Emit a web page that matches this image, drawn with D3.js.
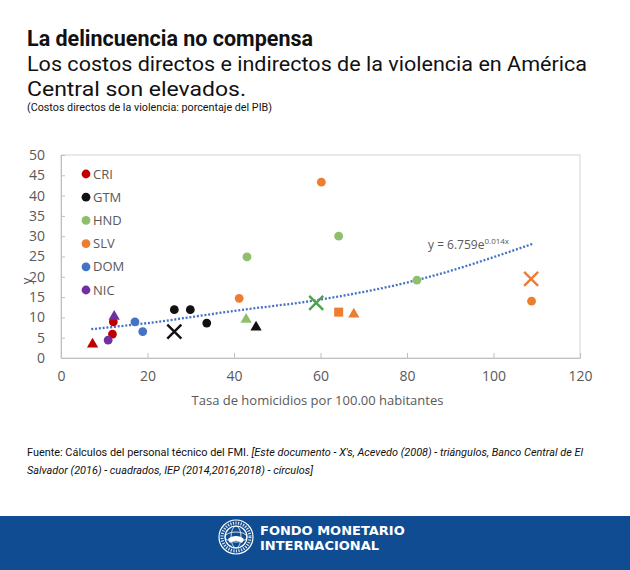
<!DOCTYPE html>
<html>
<head>
<meta charset="utf-8">
<script src="https://cdn.jsdelivr.net/npm/d3@7"></script>
<style>
  body { margin: 0; background: #fff; }
  svg { display: block; }
</style>
</head>
<body>
<div id="chart"></div>
<script>
// countries and colours, in legend order
var countries = ["CRI", "GTM", "HND", "SLV", "DOM", "NIC"];
var countryColors = ["#c00000", "#111111", "#8fbf6c", "#ed7d31", "#4472c4", "#7030a0"];

// IEP (2014, 2016, 2018) - circles
var circlePts = [
    ["CRI", 11.9, 5.9], ["CRI", 12.1, 8.9],
    ["GTM", 26.2, 11.9], ["GTM", 29.9, 11.9], ["GTM", 33.7, 8.6],
    ["HND", 43.0, 24.9], ["HND", 64.2, 30.0], ["HND", 82.3, 19.2],
    ["SLV", 60.2, 43.3], ["SLV", 41.2, 14.7], ["SLV", 108.8, 14.0],
    ["DOM", 17.1, 8.9], ["DOM", 18.9, 6.5],
    ["NIC", 10.9, 4.4]
];
// Acevedo (2008) - triangles
var trianglePts = [
    ["CRI", 7.3, 3.4], ["GTM", 45.1, 7.6], ["HND", 42.8, 9.5],
    ["SLV", 67.7, 10.8], ["NIC", 12.3, 10.2]
];
// Banco Central de El Salvador (2016) - squares
var squarePts = [["SLV", 64.2, 11.3]];
// este documento - X's
var crossPts = [["GTM", 26.2, 6.5], ["HND", 59.0, 13.6], ["SLV", 108.7, 19.5]];
var crossColors = {"GTM": "#111111", "HND": "#4ea24a", "SLV": "#ed7d31"};

// exponential trend line
var trendX = [7, 20, 40, 60, 82, 109];
var trendY = [7.1, 8.6, 11.6, 14.4, 19.1, 28.1];

var xTicks = [0, 20, 40, 60, 80, 100, 120];
var yTicks = [0, 5, 10, 15, 20, 25, 30, 35, 40, 45, 50];

var width = 630, height = 570;
var plot = {left: 61, right: 580, top: 155, bottom: 358};
var grayText = "#595959";
var chartFont = "'Open Sans', sans-serif";

var svg = d3.select("#chart").append("svg")
    .attr("width", width)
    .attr("height", height);

// titles
svg.append("text")
    .attr("x", 27).attr("y", 46)
    .style("font-family", "Roboto").style("font-weight", "bold").style("font-size", "22px")
    .attr("fill", "#111")
    .attr("textLength", 286).attr("lengthAdjust", "spacingAndGlyphs")
    .text("La delincuencia no compensa");
svg.append("text")
    .attr("x", 27).attr("y", 71)
    .style("font-family", "Roboto").style("font-size", "20.5px")
    .attr("fill", "#111")
    .attr("textLength", 560).attr("lengthAdjust", "spacingAndGlyphs")
    .text("Los costos directos e indirectos de la violencia en América");
svg.append("text")
    .attr("x", 27).attr("y", 95.5)
    .style("font-family", "Roboto").style("font-size", "20.5px")
    .attr("fill", "#111")
    .attr("textLength", 219).attr("lengthAdjust", "spacingAndGlyphs")
    .text("Central son elevados.");
svg.append("text")
    .attr("x", 27).attr("y", 111)
    .style("font-family", "Roboto").style("font-size", "11px")
    .attr("fill", "#111")
    .attr("textLength", 245).attr("lengthAdjust", "spacingAndGlyphs")
    .text("(Costos directos de la violencia: porcentaje del PIB)");

var x = d3.scaleLinear().domain([0, 120]).range([plot.left, plot.right]);
var y = d3.scaleLinear().domain([0, 50]).range([plot.bottom, plot.top]);

// frame
svg.append("rect")
    .attr("x", plot.left).attr("y", plot.top)
    .attr("width", plot.right - plot.left).attr("height", plot.bottom - plot.top)
    .attr("fill", "none").attr("stroke", "#d4d4d4").attr("stroke-width", 1);

var xAxis = svg.append("g")
    .attr("transform", "translate(0," + plot.bottom + ")")
    .call(d3.axisBottom(x).tickValues(xTicks).tickSizeInner(-5).tickSizeOuter(0).tickPadding(13));
var yAxis = svg.append("g")
    .attr("transform", "translate(" + plot.left + ",0)")
    .call(d3.axisLeft(y).tickValues(yTicks).tickSizeInner(-4).tickSizeOuter(0).tickPadding(16));

[xAxis, yAxis].forEach(function (ax) {
    ax.select(".domain").attr("stroke", "#bfbfbf");
    ax.selectAll(".tick line").attr("stroke", "#bfbfbf");
    ax.selectAll(".tick text")
        .attr("fill", grayText)
        .style("font-family", chartFont)
        .style("font-size", "14px");
});
xAxis.selectAll(".tick").filter(function (d) { return d === 0; }).select("line").remove();
yAxis.selectAll(".tick").filter(function (d) { return d === 0; }).select("line").remove();

// axis titles
svg.append("text")
    .attr("x", (plot.left + plot.right) / 2 - 3).attr("y", 405)
    .attr("text-anchor", "middle")
    .attr("fill", grayText)
    .style("font-family", chartFont).style("font-size", "13px")
    .text("Tasa de homicidios por 100.00 habitantes");
svg.append("text")
    .attr("transform", "translate(31,281) rotate(-90)")
    .attr("text-anchor", "middle")
    .attr("fill", grayText)
    .style("font-family", chartFont).style("font-size", "13px")
    .text("y");

var color = d3.scaleOrdinal().domain(countries).range(countryColors);

// trend line
var trend = trendX.map(function (v, i) { return [v, trendY[i]]; });
svg.append("path")
    .datum(trend)
    .attr("fill", "none")
    .attr("stroke", "#4472c4")
    .attr("stroke-width", 2.3)
    .attr("stroke-dasharray", "2,1.8")
    .attr("d", d3.line()
        .x(function (d) { return x(d[0]); })
        .y(function (d) { return y(d[1]); })
        .curve(d3.curveMonotoneX));

var eq = svg.append("text")
    .attr("x", 428).attr("y", 249)
    .attr("fill", grayText)
    .style("font-family", chartFont).style("font-size", "12px");
eq.append("tspan").text("y = 6.759e");
eq.append("tspan").attr("dy", -5).style("font-size", "8px").text("0.014x");

// markers
svg.append("g").selectAll("circle")
    .data(circlePts)
    .enter().append("circle")
    .attr("cx", function (d) { return x(d[1]); })
    .attr("cy", function (d) { return y(d[2]); })
    .attr("r", 4.4)
    .attr("fill", function (d) { return color(d[0]); });

svg.append("g").selectAll("path")
    .data(trianglePts)
    .enter().append("path")
    .attr("transform", function (d) { return "translate(" + x(d[1]) + "," + y(d[2]) + ")"; })
    .attr("d", d3.symbol().type(d3.symbolTriangle).size(55))
    .attr("fill", function (d) { return color(d[0]); });

svg.append("g").selectAll("rect")
    .data(squarePts)
    .enter().append("rect")
    .attr("x", function (d) { return x(d[1]) - 4.5; })
    .attr("y", function (d) { return y(d[2]) - 4.5; })
    .attr("width", 9).attr("height", 9)
    .attr("fill", function (d) { return color(d[0]); });

svg.append("g").selectAll("path")
    .data(crossPts)
    .enter().append("path")
    .attr("transform", function (d) { return "translate(" + x(d[1]) + "," + y(d[2]) + ")"; })
    .attr("d", "M-7,-7L7,7M-7,7L7,-7")
    .attr("fill", "none")
    .attr("stroke-width", 2.4)
    .attr("stroke", function (d) { return crossColors[d[0]]; });

// legend
var legend = svg.append("g").selectAll("g")
    .data(countries)
    .enter().append("g")
    .attr("transform", function (d, i) { return "translate(86," + (174 + i * 23.2) + ")"; });
legend.append("circle").attr("r", 4.4).attr("fill", function (d) { return color(d); });
legend.append("text")
    .attr("x", 7).attr("dy", "0.36em")
    .attr("fill", grayText)
    .style("font-family", chartFont).style("font-size", "13px")
    .text(function (d) { return d; });

// source note
var src1 = svg.append("text")
    .attr("x", 27).attr("y", 456)
    .attr("fill", "#111")
    .style("font-family", "Roboto").style("font-size", "11px")
    .attr("textLength", 556).attr("lengthAdjust", "spacingAndGlyphs");
src1.append("tspan").text("Fuente: Cálculos del personal técnico del FMI. ");
src1.append("tspan").style("font-style", "italic")
    .text("[Este documento - X's, Acevedo (2008) - triángulos, Banco Central de El");
svg.append("text")
    .attr("x", 27).attr("y", 474)
    .attr("fill", "#111")
    .style("font-family", "Roboto").style("font-size", "11px").style("font-style", "italic")
    .attr("textLength", 286).attr("lengthAdjust", "spacingAndGlyphs")
    .text("Salvador (2016) - cuadrados, IEP (2014,2016,2018) - círculos]");

// footer band
svg.append("rect")
    .attr("x", 0).attr("y", 516).attr("width", width).attr("height", height - 516)
    .attr("fill", "#0f4c92");

var logo = svg.append("g").attr("transform", "translate(236,537)");
logo.append("circle").attr("r", 17).attr("fill", "none").attr("stroke", "#fff").attr("stroke-width", 1.2);
logo.append("circle").attr("r", 11).attr("fill", "none").attr("stroke", "#fff").attr("stroke-width", 1.2);
logo.append("ellipse").attr("rx", 11).attr("ry", 5).attr("fill", "none").attr("stroke", "#fff").attr("stroke-width", 0.8);
logo.append("ellipse").attr("rx", 5).attr("ry", 11).attr("fill", "none").attr("stroke", "#fff").attr("stroke-width", 0.8);
logo.append("path").attr("d", "M-8,2C-4,-2 4,-2 8,2L6,6C2,3 -2,3 -6,6Z").attr("fill", "#fff");
logo.append("circle").attr("r", 14).attr("fill", "none").attr("stroke", "#fff")
    .attr("stroke-width", 3).attr("stroke-dasharray", "1.2,1.4").attr("opacity", 0.85);

svg.append("text")
    .attr("x", 260).attr("y", 535)
    .attr("fill", "#fff")
    .style("font-family", "'DejaVu Sans'").style("font-weight", "bold").style("font-size", "13px")
    .text("FONDO MONETARIO");
svg.append("text")
    .attr("x", 260).attr("y", 550)
    .attr("fill", "#fff")
    .style("font-family", "'DejaVu Sans'").style("font-weight", "bold").style("font-size", "13px")
    .text("INTERNACIONAL");
</script>
</body>
</html>
